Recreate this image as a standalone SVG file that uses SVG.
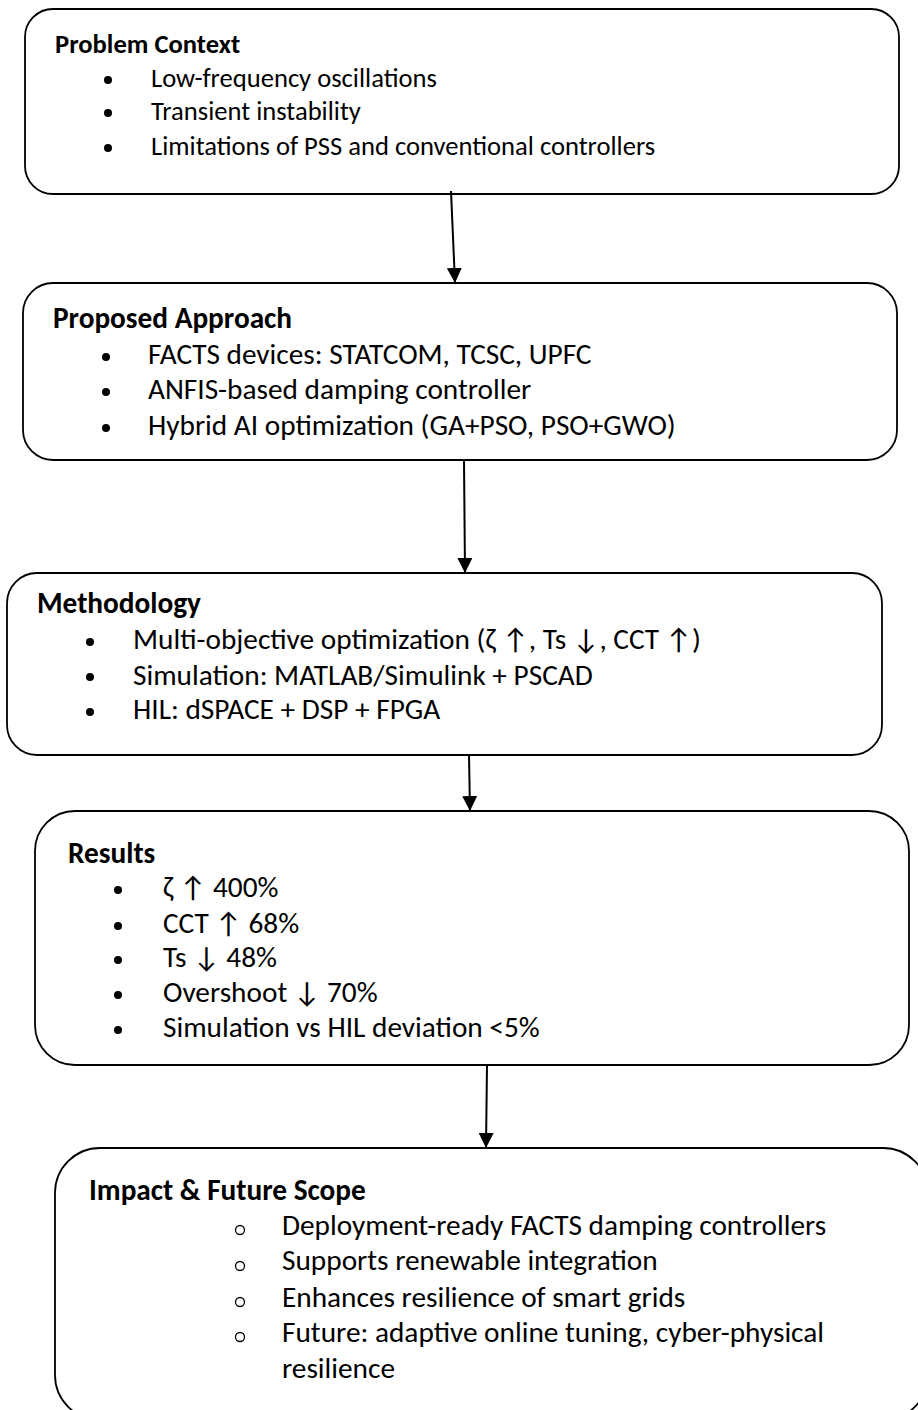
<svg xmlns="http://www.w3.org/2000/svg" width="918" height="1410" viewBox="0 0 918 1410">
  <style>
    .box { fill: #ffffff; stroke: #000000; stroke-width: 1.8; }
    .t { font-family: Carlito, Lato, "Noto Sans", sans-serif; fill: #000000; }
    .h { font-weight: bold; }
    .s1 { font-size: 26.6px; }
    .s2 { font-size: 29.3px; }
    .dot { fill: #000000; }
    .ring { fill: none; stroke: #000000; stroke-width: 1.3; }
    .conn { stroke: #000000; stroke-width: 2; fill: none; marker-end: url(#arrow); }
  </style>
  <defs>
    <marker id="arrow" markerUnits="userSpaceOnUse" markerWidth="16" markerHeight="16" refX="15" refY="7.5" orient="auto">
      <path d="M0,0 L15,7.5 L0,15 z" fill="#000000"/>
    </marker>
  </defs>
  <rect width="918" height="1410" fill="#ffffff"/>

  <g id="node-problem">
    <rect class="box" x="25" y="9" width="874" height="185" rx="28" ry="28"/>
    <text class="t h s1" x="55" y="53">Problem Context</text>
    <circle class="dot" cx="108" cy="80" r="4"/>
    <text class="t s1" x="151" y="87">Low-frequency oscillations</text>
    <circle class="dot" cx="108" cy="113" r="4"/>
    <text class="t s1" x="151" y="120">Transient instability</text>
    <circle class="dot" cx="108" cy="148" r="4"/>
    <text class="t s1" x="151" y="155">Limitations of PSS and conventional controllers</text>
  </g>

  <g id="node-approach">
    <rect class="box" x="23" y="283" width="874" height="177" rx="30" ry="30"/>
    <text class="t h s2" x="53" y="328">Proposed Approach</text>
    <circle class="dot" cx="106" cy="357" r="4"/>
    <text class="t s2" x="148" y="364">FACTS devices: STATCOM, TCSC, UPFC</text>
    <circle class="dot" cx="106" cy="392" r="4"/>
    <text class="t s2" x="148" y="399">ANFIS-based damping controller</text>
    <circle class="dot" cx="106" cy="428" r="4"/>
    <text class="t s2" x="148" y="435">Hybrid AI optimization (GA+PSO, PSO+GWO)</text>
  </g>

  <g id="node-methodology">
    <rect class="box" x="7" y="573" width="875" height="182" rx="30" ry="30"/>
    <text class="t h s2" x="37" y="613">Methodology</text>
    <circle class="dot" cx="90" cy="642" r="4"/>
    <text class="t s2" x="133" y="649">Multi-objective optimization (ζ ↑, Ts ↓, CCT ↑)</text>
    <circle class="dot" cx="90" cy="677" r="4"/>
    <text class="t s2" x="133" y="685">Simulation: MATLAB/Simulink + PSCAD</text>
    <circle class="dot" cx="90" cy="712" r="4"/>
    <text class="t s2" x="133" y="719">HIL: dSPACE + DSP + FPGA</text>
  </g>

  <g id="node-results">
    <rect class="box" x="35" y="811" width="874" height="254" rx="40" ry="40"/>
    <text class="t h s2" x="68" y="863">Results</text>
    <circle class="dot" cx="118" cy="890" r="4"/>
    <text class="t s2" x="163" y="897">ζ ↑ 400%</text>
    <circle class="dot" cx="118" cy="926" r="4"/>
    <text class="t s2" x="163" y="933">CCT ↑ 68%</text>
    <circle class="dot" cx="118" cy="960" r="4"/>
    <text class="t s2" x="163" y="967">Ts ↓ 48%</text>
    <circle class="dot" cx="118" cy="995" r="4"/>
    <text class="t s2" x="163" y="1002">Overshoot ↓ 70%</text>
    <circle class="dot" cx="118" cy="1030" r="4"/>
    <text class="t s2" x="163" y="1037">Simulation vs HIL deviation &lt;5%</text>
  </g>

  <g id="node-impact">
    <rect class="box" x="55" y="1148" width="873" height="272" rx="45" ry="45"/>
    <text class="t h s2" x="89" y="1200">Impact &amp; Future Scope</text>
    <circle class="ring" cx="240" cy="1230" r="4.5"/>
    <text class="t s2" x="282" y="1235">Deployment-ready FACTS damping controllers</text>
    <circle class="ring" cx="240" cy="1266" r="4.5"/>
    <text class="t s2" x="282" y="1270">Supports renewable integration</text>
    <circle class="ring" cx="240" cy="1302" r="4.5"/>
    <text class="t s2" x="282" y="1307">Enhances resilience of smart grids</text>
    <circle class="ring" cx="240" cy="1337" r="4.5"/>
    <text class="t s2" x="282" y="1342">Future: adaptive online tuning, cyber-physical</text>
    <text class="t s2" x="282" y="1378">resilience</text>
  </g>

  <g id="connectors">
    <line class="conn" x1="451" y1="191" x2="455" y2="283"/>
    <line class="conn" x1="464" y1="460" x2="465" y2="573"/>
    <line class="conn" x1="469" y1="755" x2="470" y2="811"/>
    <line class="conn" x1="487" y1="1065" x2="486" y2="1148"/>
  </g>
</svg>
